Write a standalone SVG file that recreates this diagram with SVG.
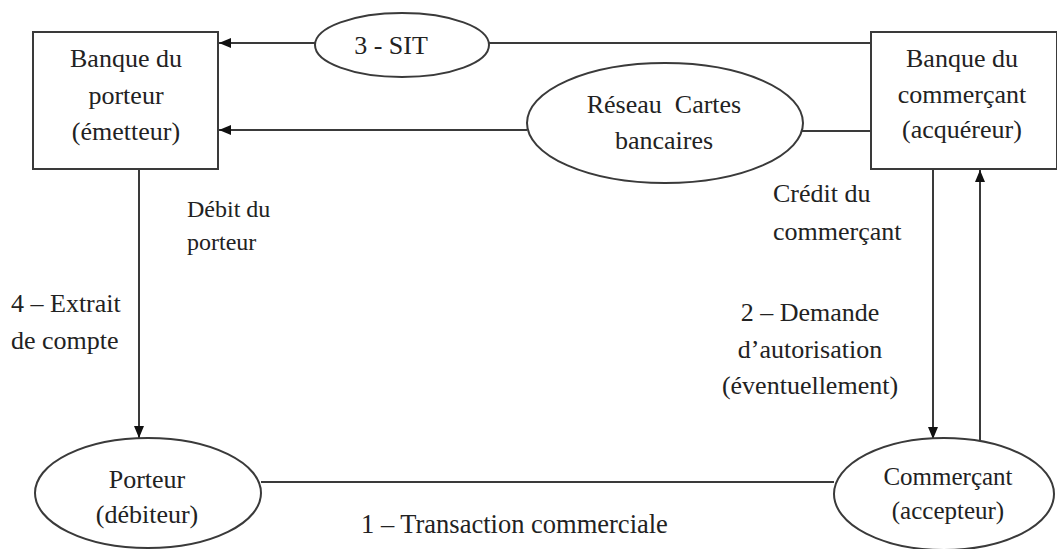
<svg xmlns="http://www.w3.org/2000/svg" width="1057" height="549" viewBox="0 0 1057 549">
  <defs>
    <style>
      .box { fill: #ffffff; stroke: #3a3a3a; stroke-width: 2; }
      .ell { fill: #ffffff; stroke: #3a3a3a; stroke-width: 2; }
      .ln { fill: none; stroke: #3a3a3a; stroke-width: 2; }
      .t { font-family: "Liberation Serif", "DejaVu Serif", serif; font-size: 26px; fill: #222222; }
      .c { text-anchor: middle; }
    </style>
    <marker id="arr" markerWidth="12" markerHeight="10" refX="12" refY="5" orient="auto" markerUnits="userSpaceOnUse">
      <path d="M0,0 L12,5 L0,10 Z" fill="#111111"/>
    </marker>
  </defs>
  <rect width="1057" height="549" fill="#ffffff"/>

  <g id="connectors">
    <line class="ln" x1="871" y1="43" x2="489" y2="43"/>
    <line class="ln" x1="315" y1="43" x2="219" y2="43" marker-end="url(#arr)"/>
    <line class="ln" x1="871" y1="131" x2="802" y2="131"/>
    <line class="ln" x1="527" y1="130" x2="219" y2="130" marker-end="url(#arr)"/>
    <line class="ln" x1="139" y1="169" x2="139" y2="438" marker-end="url(#arr)"/>
    <line class="ln" x1="933" y1="169" x2="933" y2="439" marker-end="url(#arr)"/>
    <line class="ln" x1="980" y1="441" x2="980" y2="170" marker-end="url(#arr)"/>
    <line class="ln" x1="261" y1="482" x2="834" y2="482"/>
  </g>

  <g id="banque-porteur">
    <rect class="box" x="33" y="32" width="185" height="137"/>
    <text class="t c" x="126" y="67">Banque du</text>
    <text class="t c" x="126" y="104">porteur</text>
    <text class="t c" x="126" y="140">(émetteur)</text>
  </g>

  <g id="banque-commercant">
    <rect class="box" x="871" y="32" width="186" height="137"/>
    <text class="t c" x="962" y="67">Banque du</text>
    <text class="t c" x="962" y="103">commerçant</text>
    <text class="t c" x="962" y="138">(acquéreur)</text>
  </g>

  <g id="sit">
    <ellipse class="ell" cx="402" cy="45" rx="87" ry="32"/>
    <text class="t c" x="391" y="54">3 - SIT</text>
  </g>

  <g id="reseau">
    <ellipse class="ell" cx="665" cy="123" rx="138" ry="60"/>
    <text class="t c" x="664" y="113" style="white-space:pre">Réseau  Cartes</text>
    <text class="t c" x="664" y="149">bancaires</text>
  </g>

  <g id="porteur">
    <ellipse class="ell" cx="148" cy="493" rx="113" ry="55"/>
    <text class="t c" x="147" y="488">Porteur</text>
    <text class="t c" x="147" y="523">(débiteur)</text>
  </g>

  <g id="commercant">
    <ellipse class="ell" cx="944" cy="494" rx="110" ry="56"/>
    <text class="t c" x="948" y="485" style="font-size:25px">Commerçant</text>
    <text class="t c" x="948" y="519" style="font-size:25px">(accepteur)</text>
  </g>

  <g id="labels">
    <text class="t" x="187" y="217" style="font-size:24px">Débit du</text>
    <text class="t" x="187" y="250" style="font-size:24px">porteur</text>
    <text class="t" x="773" y="202">Crédit du</text>
    <text class="t" x="773" y="240">commerçant</text>
    <text class="t" x="11" y="312">4 – Extrait</text>
    <text class="t" x="11" y="349">de compte</text>
    <text class="t c" x="810" y="321">2 – Demande</text>
    <text class="t c" x="810" y="358">d’autorisation</text>
    <text class="t c" x="810" y="394">(éventuellement)</text>
    <text class="t" x="361" y="533" style="font-size:26.5px">1 – Transaction commerciale</text>
  </g>
</svg>
